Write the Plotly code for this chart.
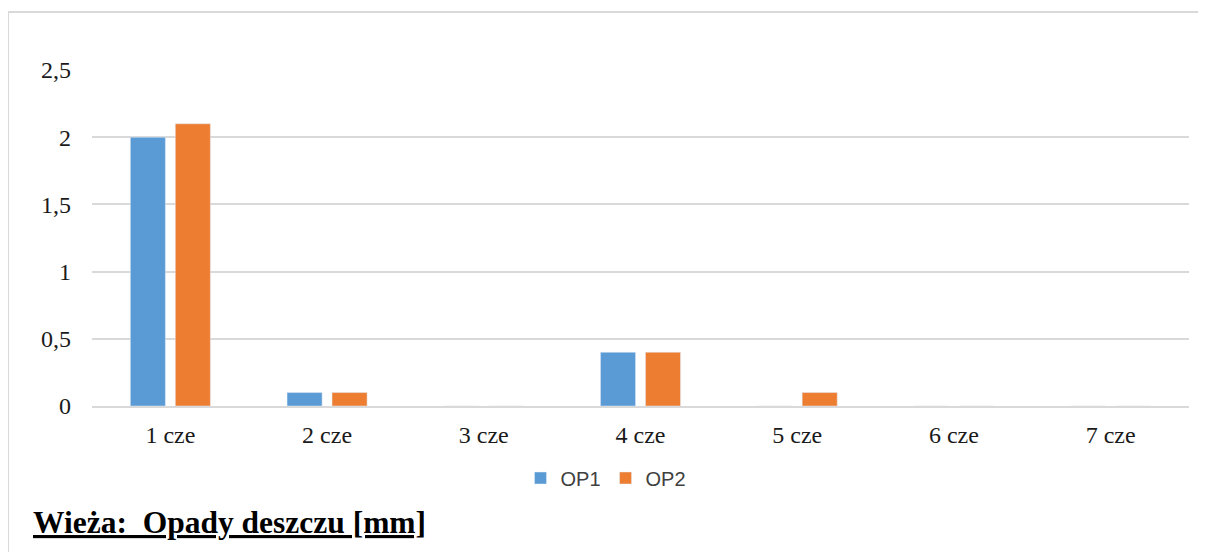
import plotly.graph_objects as go

categories = ["1 cze", "2 cze", "3 cze", "4 cze", "5 cze", "6 cze", "7 cze"]
op1 = [2.0, 0.1, 0, 0.4, 0, 0, 0]
op2 = [2.1, 0.1, 0, 0.4, 0.1, 0, 0]
series_names = ["OP1", "OP2"]
y_ticks = [0, 0.5, 1, 1.5, 2, 2.5]
title_text = "Wieża:  Opady deszczu [mm]"

OFF = 8  # page body margin
W, H = 1206 - OFF, 552 - OFF
L, R, T, B = 92 - OFF, 1206 - 1189, 70 - OFF, 552 - 406
pw, ph = W - L - R, H - T - B

def px_x(x):
    return (x - OFF - L) / pw

def px_y(y):
    return (H - B - (y - OFF)) / ph

fig = go.Figure()
fig.add_trace(go.Bar(x=categories, y=op1, name=series_names[0], marker_color="#5B9BD5"))
fig.add_trace(go.Bar(x=categories, y=op2, name=series_names[1], marker_color="#ED7D31"))

frame = dict(color="#d9d9d9", width=2)
fig.update_layout(
    width=W, height=H,
    margin=dict(l=L, r=R, t=T, b=B),
    paper_bgcolor="white", plot_bgcolor="white",
    barmode="group", bargap=0.426, bargroupgap=0.22,
    separators=", ",
    showlegend=True,
    legend=dict(orientation="h", x=px_x(606), y=px_y(478), xanchor="center", yanchor="middle",
                font=dict(family="Liberation Sans", size=20, color="#404040"),
                itemwidth=30, traceorder="normal"),
    annotations=[dict(text="<b><u>" + title_text + "</u></b>", xref="paper", yref="paper",
                      x=px_x(31), y=px_y(522), xanchor="left", yanchor="middle", showarrow=False,
                      font=dict(family="Liberation Serif", size=31.5, color="black"))],
    shapes=[
        dict(type="line", xref="paper", yref="paper", x0=px_x(8), x1=px_x(8),
             y0=px_y(600), y1=px_y(12), line=frame, layer="below"),
        dict(type="line", xref="paper", yref="paper", x0=px_x(8), x1=px_x(1240),
             y0=px_y(12), y1=px_y(12), line=frame, layer="below"),
    ],
)
fig.update_xaxes(showgrid=False, showline=True, linecolor="#d9d9d9", linewidth=1.5,
                 ticks="", tickfont=dict(family="Liberation Serif", size=24, color="#1a1a1a"),
                 ticklabelstandoff=6)
fig.update_yaxes(range=[0, 2.5], tickvals=y_ticks, showgrid=True, gridcolor="#d9d9d9", gridwidth=1.5,
                 zeroline=False, showline=False, ticks="",
                 tickfont=dict(family="Liberation Serif", size=24, color="#1a1a1a"),
                 ticklabelstandoff=20)

fig.write_html("out.html")
